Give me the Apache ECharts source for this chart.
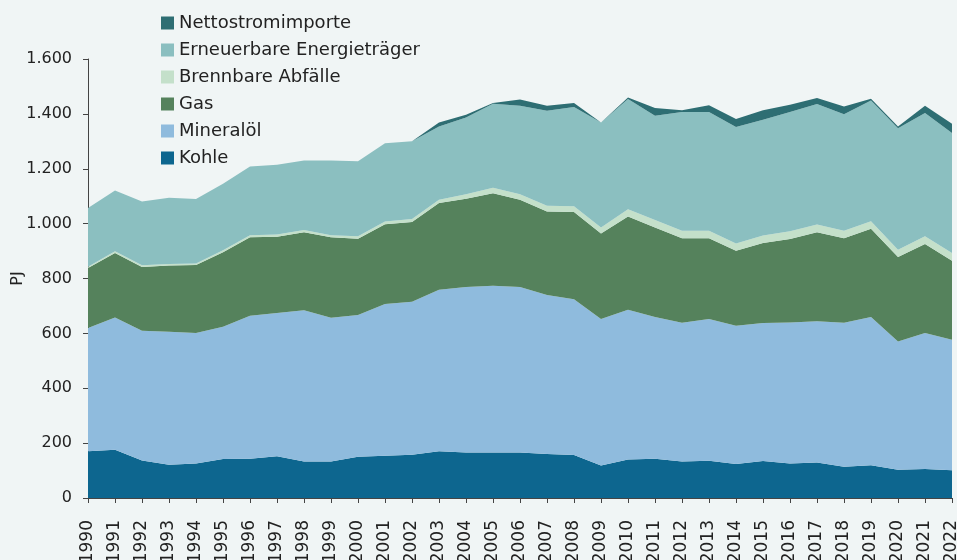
<!DOCTYPE html>
<html>
<head>
<meta charset="utf-8">
<script src="https://cdn.jsdelivr.net/npm/echarts@6/dist/echarts.min.js"></script>
<style>
  html, body { margin: 0; padding: 0; background: #f0f5f5; }
  #chart { width: 957px; height: 560px; }
</style>
</head>
<body>
<div id="chart"></div>
<script>
const years = ['1990', '1991', '1992', '1993', '1994', '1995', '1996', '1997', '1998', '1999',
    '2000', '2001', '2002', '2003', '2004', '2005', '2006', '2007', '2008', '2009',
    '2010', '2011', '2012', '2013', '2014', '2015', '2016', '2017', '2018', '2019',
    '2020', '2021', '2022'];

// PJ
const kohle = [170, 176, 137, 121, 126, 142, 143, 152, 133, 133, 150, 154, 158, 170, 166, 166, 166,
    160, 157, 118, 140, 143, 133, 136, 124, 135, 126, 129, 114, 119, 103, 106, 101];
const mineraloel = [450, 482, 473, 485, 475, 482, 521, 522, 551, 524, 517, 553, 557, 589, 603, 608, 603,
    580, 567, 534, 546, 517, 506, 516, 504, 503, 514, 515, 525, 541, 467, 495, 476];
const gas = [218, 235, 232, 241, 248, 272, 286, 278, 285, 293, 278, 291, 291, 316, 322, 337, 318,
    304, 318, 312, 340, 326, 308, 295, 273, 291, 304, 325, 308, 321, 308, 325, 288];
const abfaelle = [5, 6, 6, 6, 6, 7, 8, 8, 8, 8, 9, 10, 11, 12, 16, 20, 20, 21, 21, 22, 26, 27, 27,
    27, 27, 28, 28, 28, 27, 28, 27, 28, 28];
const erneuerbare = [214, 222, 233, 241, 235, 242, 250, 255, 253, 272, 273, 285, 283, 267, 280, 306,
    323, 346, 362, 383, 402, 380, 433, 433, 424, 422, 435, 439, 425, 440, 443, 449, 437];
const importe = [0, 0, 0, 0, 0, 0, 0, 0, 0, 0, 0, 0, 0, 15, 10, 3, 22, 19, 15, 0, 6, 28, 6, 24, 29,
    34, 26, 22, 28, 6, 6, 27, 34];

const yTicks = [0, 200, 400, 600, 800, 1000, 1200, 1400, 1600];

const fontFamily = 'DejaVu Sans';
const textColor = '#222222';

function deFormat(v) {
    return String(v).replace(/\B(?=(\d{3})+(?!\d))/g, '.');
}

function areaSeries(name, data, color) {
    return {
        name,
        type: 'line',
        stack: 'total',
        data,
        symbol: 'none',
        lineStyle: { width: 0 },
        areaStyle: { color, opacity: 1 },
        itemStyle: { color },
        emphasis: { disabled: true },
    };
}

const chart = echarts.init(document.getElementById('chart'));

chart.setOption({
    backgroundColor: '#f0f5f5',
    animation: false,
    textStyle: { fontFamily, color: textColor },
    legend: {
        orient: 'vertical',
        left: 161,
        top: 14,
        padding: 0,
        icon: 'rect',
        itemWidth: 13,
        itemHeight: 13,
        itemGap: 9,
        textStyle: { fontFamily, fontSize: 18, lineHeight: 18, color: textColor },
        data: ['Nettostromimporte', 'Erneuerbare Energieträger', 'Brennbare Abfälle', 'Gas', 'Mineralöl', 'Kohle'],
    },
    grid: {
        left: 88,
        right: 5,
        top: 59,
        bottom: 62,
        outerBoundsMode: 'none',
        containLabel: false,
    },
    xAxis: {
        type: 'category',
        data: years,
        boundaryGap: false,
        axisLine: { lineStyle: { color: '#444444', width: 1 } },
        axisTick: { alignWithLabel: true, length: 5, lineStyle: { color: '#444444' } },
        axisLabel: {
            rotate: 90,
            interval: 0,
            margin: 22,
            fontSize: 17,
            color: textColor,
            fontFamily,
        },
        splitLine: { show: false },
    },
    yAxis: {
        type: 'value',
        min: yTicks[0],
        max: yTicks[yTicks.length - 1],
        interval: 200,
        name: 'PJ',
        nameLocation: 'middle',
        nameGap: 62,
        nameMoveOverlap: false,
        nameRotate: 90,
        nameTextStyle: { fontSize: 16, color: textColor, fontFamily },
        axisLine: { show: true, lineStyle: { color: '#444444', width: 1 } },
        axisTick: { show: true, length: 5, lineStyle: { color: '#444444' } },
        axisLabel: {
            margin: 16,
            fontSize: 16,
            color: textColor,
            fontFamily,
            formatter: (v) => deFormat(v),
        },
        splitLine: { show: false },
    },
    series: [
        areaSeries('Kohle', kohle, '#0d668f'),
        areaSeries('Mineralöl', mineraloel, '#8fbbdd'),
        areaSeries('Gas', gas, '#55825c'),
        areaSeries('Brennbare Abfälle', abfaelle, '#c4e0ca'),
        areaSeries('Erneuerbare Energieträger', erneuerbare, '#8bbfc0'),
        areaSeries('Nettostromimporte', importe, '#2e6e73'),
    ],
});
</script>
</body>
</html>
